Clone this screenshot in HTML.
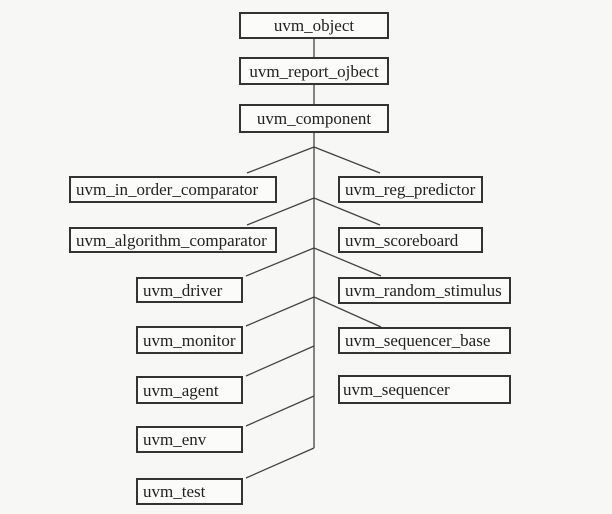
<!DOCTYPE html>
<html><head><style>
html,body{margin:0;padding:0;background:#f7f7f5;}
.w{position:relative;width:612px;height:514px;overflow:hidden;}
.b{position:absolute;box-sizing:border-box;border:2px solid #333;background:#fbfbfa;font-family:"Liberation Serif",serif;font-size:17px;color:#222;line-height:1;display:flex;align-items:center;padding-left:5px;white-space:nowrap;}
.c{justify-content:center;padding-left:0;}
svg{position:absolute;left:0;top:0;}
</style></head><body><div class="w">
<svg width="612" height="514">
<g stroke="#444" stroke-width="1.3" fill="none">
<line x1="314" y1="39" x2="314" y2="448"/>
<polyline points="247,173 314,147 380,173"/>
<polyline points="247,225 314,198 380,225"/>
<polyline points="246,276 314,248 381,276"/>
<polyline points="246,326 314,297 381,327"/>
<line x1="314" y1="346" x2="246" y2="376"/>
<line x1="314" y1="396" x2="246" y2="426"/>
<line x1="314" y1="448" x2="246" y2="478"/>
</g></svg>
<div class="b c" style="left:239px;top:12px;width:150px;height:27px">uvm_object</div>
<div class="b c" style="left:239px;top:57px;width:150px;height:28px">uvm_report_ojbect</div>
<div class="b c" style="left:239px;top:104px;width:150px;height:29px">uvm_component</div>
<div class="b" style="left:69px;top:176px;width:208px;height:27px">uvm_in_order_comparator</div>
<div class="b" style="left:338px;top:176px;width:145px;height:27px">uvm_reg_predictor</div>
<div class="b" style="left:69px;top:227px;width:208px;height:26px">uvm_algorithm_comparator</div>
<div class="b" style="left:338px;top:227px;width:145px;height:26px">uvm_scoreboard</div>
<div class="b" style="left:136px;top:277px;width:107px;height:26px">uvm_driver</div>
<div class="b" style="left:338px;top:277px;width:173px;height:27px">uvm_random_stimulus</div>
<div class="b" style="left:136px;top:326px;width:107px;height:28px">uvm_monitor</div>
<div class="b" style="left:338px;top:327px;width:173px;height:27px">uvm_sequencer_base</div>
<div class="b" style="left:136px;top:376px;width:107px;height:28px">uvm_agent</div>
<div class="b" style="left:338px;top:375px;width:173px;height:29px;padding-left:3px">uvm_sequencer</div>
<div class="b" style="left:136px;top:426px;width:107px;height:27px">uvm_env</div>
<div class="b" style="left:136px;top:478px;width:107px;height:27px">uvm_test</div>
</div></body></html>
